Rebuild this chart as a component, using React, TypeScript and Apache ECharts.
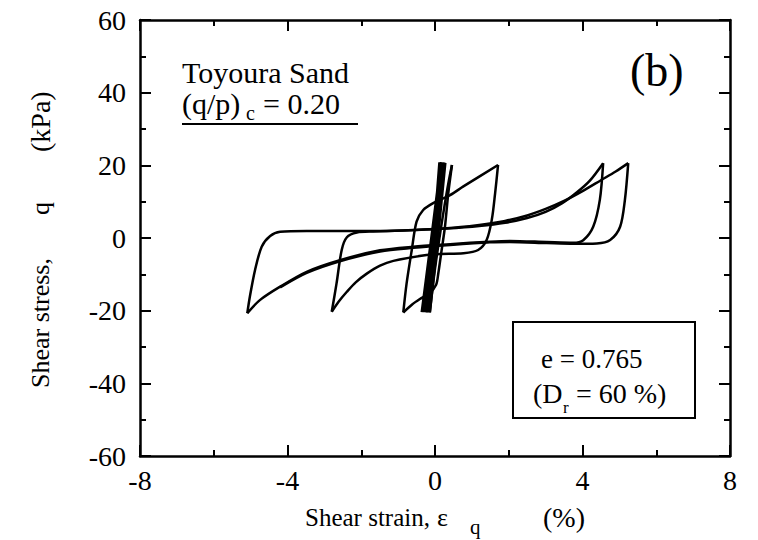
import React, { useEffect, useRef } from "react";
import * as echarts from "echarts";

const FONT = "Liberation Serif";

// axis ranges / ticks
const X_MIN = -8, X_MAX = 8, X_STEP = 4;
const Y_MIN = -60, Y_MAX = 60, Y_STEP = 20;

// early small cycles (dense bundle near zero strain)  [strain %, q kPa]
const bundleCycles: number[][] = [
  [0.0, 0], [0.12, 20.8], [-0.04, 0], [-0.36, -20.4],
  [-0.1, 0], [0.16, 20.9], [-0.02, 0], [-0.3, -20.4],
  [-0.06, 0], [0.2, 20.8], [0.02, 0], [-0.24, -20.5],
  [-0.02, 0], [0.24, 20.8], [0.05, 0], [-0.18, -20.5],
  [0.01, 0], [0.28, 20.7], [0.08, 0], [-0.14, -20.5],
];
const loadTo046: number[][] = [[-0.14, -20.5], [-0.02, -10], [0.12, 0], [0.26, 9], [0.37, 15.5], [0.46, 20.1]];
const unloadToM086: number[][] = [[0.46, 20.1], [0.36, 12.3], [0.27, 3.1], [0.18, -3.3], [0.09, -9.7], [0.03, -12.9], [-0.14, -15.1], [-0.41, -16.8], [-0.62, -18.3], [-0.86, -20.5]];
const loadTo171: number[][] = [[-0.86, -20.5], [-0.77, -12.5], [-0.63, -3.3], [-0.5, 4.5], [-0.32, 7.7], [-0.05, 9.6], [0.41, 11.8], [0.77, 14.2], [1.71, 20.1]];
const unloadToM280: number[][] = [[1.71, 20.1], [1.63, 12.3], [1.54, 5.0], [1.4, -0.55], [1.17, -3.3], [0.77, -4.2], [0.14, -4.4], [-0.23, -4.7], [-1.13, -6.3], [-1.49, -7.6], [-1.85, -9.8], [-2.15, -12.2], [-2.39, -14.8], [-2.62, -17.6], [-2.8, -20.3]];
const loadTo456: number[][] = [[-2.8, -20.3], [-2.67, -12.5], [-2.53, -3.3], [-2.39, 0.2], [-2.12, 1.5], [-1.68, 1.8], [-0.5, 2.2], [0.32, 2.6], [1.2, 3.3], [1.9, 4.2], [2.5, 5.5], [3.0, 7.2], [3.45, 9.6], [3.85, 12.6], [4.2, 15.8], [4.56, 20.6]];
const unloadToM509: number[][] = [[4.56, 20.6], [4.47, 10.5], [4.29, 3.1], [4.02, -0.6], [3.75, -1.3], [3.03, -1.1], [2.03, -0.8], [1.49, -1.0], [0.41, -1.7], [-0.59, -2.4], [-1.49, -3.4], [-2.58, -6.1], [-3.48, -9.3], [-4.2, -13.4], [-4.75, -17.1], [-5.09, -20.7]];
const loadTo524: number[][] = [[-5.09, -20.7], [-5.02, -16.1], [-4.88, -8.8], [-4.7, -2.4], [-4.47, 0.55], [-4.2, 1.7], [-3.48, 1.9], [-1.68, 1.9], [0.32, 2.7], [1.2, 3.6], [1.9, 4.7], [2.5, 6.2], [3.0, 8.0], [3.5, 10.2], [4.0, 12.9], [4.5, 15.9], [4.9, 18.3], [5.24, 20.6]];
const unloadFinal: number[][] = [[5.24, 20.6], [5.15, 10.5], [5.02, 3.1], [4.75, -0.55], [4.39, -1.5], [3.75, -1.6], [3.03, -1.4], [2.03, -1.1], [1.49, -1.2], [0.41, -1.9], [-0.59, -2.7], [-1.49, -3.7], [-2.58, -6.4], [-3.48, -9.6], [-4.2, -13.6]];

const smoothBranches = [loadTo046, unloadToM086, loadTo171, unloadToM280, loadTo456, unloadToM509, loadTo524, unloadFinal];

function axis(position: string, showLabel: boolean, min: number, max: number, step: number, margin: number) {
  return {
    type: "value",
    position,
    min,
    max,
    interval: step,
    axisLine: { show: true, onZero: false, lineStyle: { color: "#000", width: 2.5 } },
    axisTick: { show: true, inside: true, length: 11, lineStyle: { color: "#000", width: 2 } },
    minorTick: { show: true, splitNumber: 2, length: 6, lineStyle: { color: "#000", width: 2 } },
    splitLine: { show: false },
    minorSplitLine: { show: false },
    axisLabel: { show: showLabel, color: "#000", fontSize: 28, fontFamily: FONT, margin },
  };
}

function txt(text: string, x: number, y: number, size: number, extra: any = {}) {
  return {
    type: "text",
    x,
    y,
    silent: true,
    ...extra,
    style: {
      text,
      fill: "#000",
      fontSize: size,
      fontFamily: FONT,
      align: "left",
      verticalAlign: "middle",
    },
  };
}

export default function App() {
  const ref = useRef<HTMLDivElement>(null);
  useEffect(() => {
    const chart = echarts.init(ref.current!, null, { renderer: "svg" });
    const lineStyle = { color: "#000", width: 2.5 };
    const series: any[] = [
      { type: "line", data: bundleCycles, showSymbol: false, symbol: "none", smooth: false, lineStyle, silent: true, clip: false },
      ...smoothBranches.map((d) => ({ type: "line", data: d, showSymbol: false, symbol: "none", smooth: 0.3, lineStyle, silent: true, clip: false })),
    ];
    chart.setOption({
      animation: false,
      backgroundColor: "#fff",
      textStyle: { fontFamily: FONT },
      grid: { left: 140, right: 28, top: 20, bottom: 84 },
      xAxis: [axis("bottom", true, X_MIN, X_MAX, X_STEP, 10), axis("top", false, X_MIN, X_MAX, X_STEP, 10)],
      yAxis: [axis("left", true, Y_MIN, Y_MAX, Y_STEP, 14), axis("right", false, Y_MIN, Y_MAX, Y_STEP, 14)],
      series,
      graphic: [
        txt("Toyoura Sand", 182, 72, 30),
        txt("(q/p)", 182, 103, 30),
        txt("c", 246, 113, 20),
        txt("= 0.20", 263, 103, 30),
        { type: "line", silent: true, shape: { x1: 182, y1: 124, x2: 358, y2: 124 }, style: { stroke: "#000", lineWidth: 2 } },
        txt("(b)", 630, 70, 46),
        { type: "rect", silent: true, shape: { x: 513, y: 322, width: 182, height: 96 }, style: { fill: "none", stroke: "#000", lineWidth: 2 } },
        txt("e = 0.765", 541, 359, 27),
        txt("(D", 533, 393, 28),
        txt("r", 563, 407, 17),
        txt("= 60 %)", 576, 393, 28),
        txt("Shear strain,", 305, 517, 25),
        txt("ε", 437, 517, 26),
        txt("q", 470, 527, 21),
        txt("(%)", 543, 517, 28),
        txt("Shear stress,", 40, 388, 26, { rotation: Math.PI / 2 }),
        txt("q", 40, 215, 26, { rotation: Math.PI / 2 }),
        txt("(kPa)", 40, 152, 28, { rotation: Math.PI / 2 }),
      ],
    });
    return () => chart.dispose();
  }, []);
  return <div ref={ref} style={{ position: "fixed", left: 0, top: 0, width: 758, height: 540, background: "#fff" }} />;
}
